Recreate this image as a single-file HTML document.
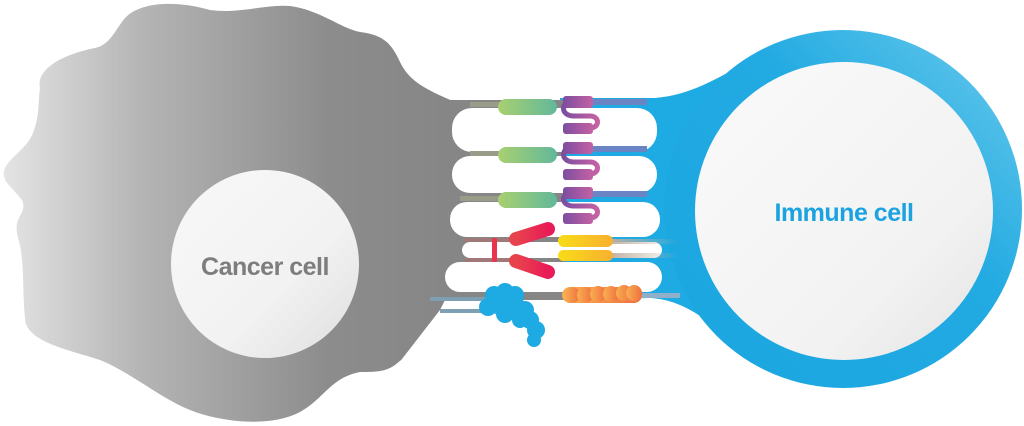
<!DOCTYPE html>
<html><head><meta charset="utf-8"><style>
html,body{margin:0;padding:0;background:#fff;}
svg{display:block;}
</style></head><body>
<svg width="1024" height="426" viewBox="0 0 1024 426" xmlns="http://www.w3.org/2000/svg">
<defs>
<linearGradient id="gray" x1="0" y1="0" x2="1" y2="0" gradientUnits="objectBoundingBox">
<stop offset="0" stop-color="#e4e4e4"/><stop offset="0.3" stop-color="#b4b4b4"/><stop offset="0.7" stop-color="#8c8c8c"/><stop offset="1" stop-color="#858585"/></linearGradient>
<linearGradient id="nuc" x1="0" y1="0" x2="1" y2="1"><stop offset="0" stop-color="#f8f8f8"/><stop offset="0.6" stop-color="#f2f2f2"/><stop offset="1" stop-color="#dedede"/></linearGradient>
<linearGradient id="blue" x1="0" y1="1" x2="1" y2="0"><stop offset="0" stop-color="#1aa6e0"/><stop offset="0.6" stop-color="#22aae2"/><stop offset="1" stop-color="#6ccbec"/></linearGradient>
<linearGradient id="inn" x1="0" y1="0" x2="1" y2="1"><stop offset="0" stop-color="#fafafa"/><stop offset="0.7" stop-color="#f2f2f2"/><stop offset="1" stop-color="#e2e2e2"/></linearGradient>
<linearGradient id="green" x1="0" y1="0" x2="1" y2="0"><stop offset="0" stop-color="#a8d070"/><stop offset="1" stop-color="#62b89a"/></linearGradient>
<linearGradient id="purple" x1="0" y1="0" x2="1" y2="0"><stop offset="0" stop-color="#7d4ea0"/><stop offset="1" stop-color="#c462a4"/></linearGradient>
<linearGradient id="red" x1="0" y1="0" x2="1" y2="0"><stop offset="0" stop-color="#e8434c"/><stop offset="1" stop-color="#e81c58"/></linearGradient>
<linearGradient id="yel" x1="0" y1="0" x2="1" y2="0"><stop offset="0" stop-color="#f8dc18"/><stop offset="1" stop-color="#f8b030"/></linearGradient>
<linearGradient id="org" x1="0" y1="0" x2="1" y2="0"><stop offset="0" stop-color="#f8b050"/><stop offset="1" stop-color="#f07040"/></linearGradient>
<linearGradient id="stemR" x1="0" y1="0" x2="1" y2="0"><stop offset="0" stop-color="#c0b0a0"/><stop offset="1" stop-color="#c0b0a0" stop-opacity="0"/></linearGradient>
</defs>

<!-- cancer cell -->
<path fill="url(#gray)" d="M40,88 C36,70 60,55 95,48 C110,45 115,30 125,18 C140,2 175,0 210,10 C240,14 265,4 290,6 C320,10 340,28 360,32 C385,35 392,45 400,62 C410,82 425,90 470,108 L470,318 C440,330 420,345 395,365 C385,372 375,372 360,372 C330,378 325,398 300,412 C270,428 220,422 190,410 C160,398 130,372 100,360 C70,350 25,342 25,318 C22,290 25,260 18,238 C12,215 28,215 22,200 C10,185 0,180 5,168 C12,155 25,150 32,135 C40,118 38,100 40,88 Z"/>
<circle cx="265" cy="264" r="94" fill="url(#nuc)"/>
<text x="265" y="275" text-anchor="middle" font-family="Liberation Sans, sans-serif" font-weight="bold" font-size="25" fill="#7d7d7d" letter-spacing="-0.5">Cancer cell</text>

<!-- immune cell -->
<path fill="#1eaae2" d="M560,98 L655,98 C690,95 715,80 750,60 L750,360 C720,330 690,300 650,298 L560,300 Z"/>
<circle cx="843" cy="209" r="179" fill="url(#blue)"/>
<circle cx="844" cy="211" r="149" fill="url(#inn)"/>
<text x="844" y="221" text-anchor="middle" font-family="Liberation Sans, sans-serif" font-weight="bold" font-size="25" fill="#1aa3e0" letter-spacing="-0.5">Immune cell</text>

<!-- gray bridge -->
<rect x="440" y="100" width="125" height="212" fill="#868686"/>

<!-- white pills -->
<g fill="#fff">
<rect x="452" y="108" width="205" height="44" rx="20"/>
<rect x="452" y="156" width="205" height="37" rx="18"/>
<rect x="450" y="202" width="210" height="35" rx="17"/>
<rect x="462" y="242" width="200" height="16" rx="8"/>
<rect x="445" y="262" width="217" height="30" rx="15"/>
<path d="M445,300 L640,300 L680,330 L690,426 L350,426 L440,310 Z"/>
<rect x="460" y="302" width="30" height="8"/>
</g>
<rect x="430" y="297" width="60" height="4" fill="#7fa0b4"/>
<rect x="440" y="309" width="50" height="4" fill="#7fa0b4"/>

<!-- stems -->
<g fill="#9a9c8a">
<rect x="470" y="102" width="30" height="5"/>
<rect x="470" y="151" width="30" height="5"/>
<rect x="460" y="196" width="40" height="5"/>
</g>
<rect x="465" y="238" width="50" height="4" fill="#a07878"/>
<rect x="465" y="258" width="50" height="4" fill="#a07878"/>
<g fill="#6a84c4">
<rect x="592" y="99" width="55" height="6"/>
<rect x="592" y="146" width="55" height="6"/>
<rect x="592" y="191" width="55" height="6"/>
</g>
<rect x="608" y="239" width="70" height="5" fill="url(#stemR)"/>
<rect x="608" y="253" width="70" height="5" fill="url(#stemR)"/>
<rect x="635" y="293" width="45" height="5" fill="#8fb0c8"/>

<!-- green ligands -->
<rect x="498" y="99" width="59" height="16" rx="8" fill="url(#green)"/>
<rect x="498" y="147" width="59" height="16" rx="8" fill="url(#green)"/>
<rect x="498" y="192" width="59" height="16" rx="8" fill="url(#green)"/>

<!-- purple receptors -->
<g fill="none" stroke="url(#purple)" stroke-width="5" stroke-linecap="round">
<path d="M574,101 C560,101 560,116 574,116 L590,116 C600,116 600,128 590,128 L575,128"/>
<path d="M574,147 C560,147 560,162 574,162 L590,162 C600,162 600,174 590,174 L575,174"/>
<path d="M574,192 C560,192 560,206 574,206 L590,206 C600,206 600,218 590,218 L575,218"/>
</g>
<g fill="url(#purple)">
<rect x="563" y="96" width="30" height="12" rx="3"/><rect x="563" y="123" width="30" height="11" rx="3"/>
<rect x="563" y="142" width="30" height="12" rx="3"/><rect x="563" y="169" width="30" height="11" rx="3"/>
<rect x="563" y="187" width="30" height="12" rx="3"/><rect x="563" y="213" width="30" height="11" rx="3"/>
</g>

<!-- red antibody -->
<rect x="492" y="238" width="5" height="24" rx="2" fill="#e8344c"/>
<g stroke="url(#red)" stroke-width="14" stroke-linecap="round">
<line x1="516" y1="239" x2="548" y2="229"/>
<line x1="516" y1="261" x2="548" y2="272"/>
</g>

<!-- yellow -->
<rect x="558" y="235" width="55" height="12" rx="6" fill="url(#yel)"/>
<rect x="558" y="250" width="55" height="11" rx="5.5" fill="url(#yel)"/>

<!-- orange beads -->
<g fill="url(#org)">
<rect x="562" y="287" width="80" height="16" rx="8"/>
<circle cx="572" cy="295" r="8"/><circle cx="585" cy="295" r="8"/><circle cx="598" cy="294" r="8"/><circle cx="611" cy="294" r="8"/><circle cx="624" cy="293" r="8"/><circle cx="634" cy="293" r="8"/>
</g>

<!-- blue cluster -->
<g fill="#1eaae2">
<circle cx="494" cy="295" r="9"/><circle cx="505" cy="292" r="9"/><circle cx="515" cy="295" r="9"/>
<circle cx="488" cy="307" r="9"/><circle cx="500" cy="305" r="10"/><circle cx="515" cy="306" r="10"/>
<circle cx="525" cy="310" r="9"/><circle cx="530" cy="320" r="9"/><circle cx="536" cy="330" r="9"/>
<circle cx="534" cy="340" r="7"/><circle cx="505" cy="314" r="9"/><circle cx="520" cy="320" r="8"/>
</g>
</svg>
</body></html>
